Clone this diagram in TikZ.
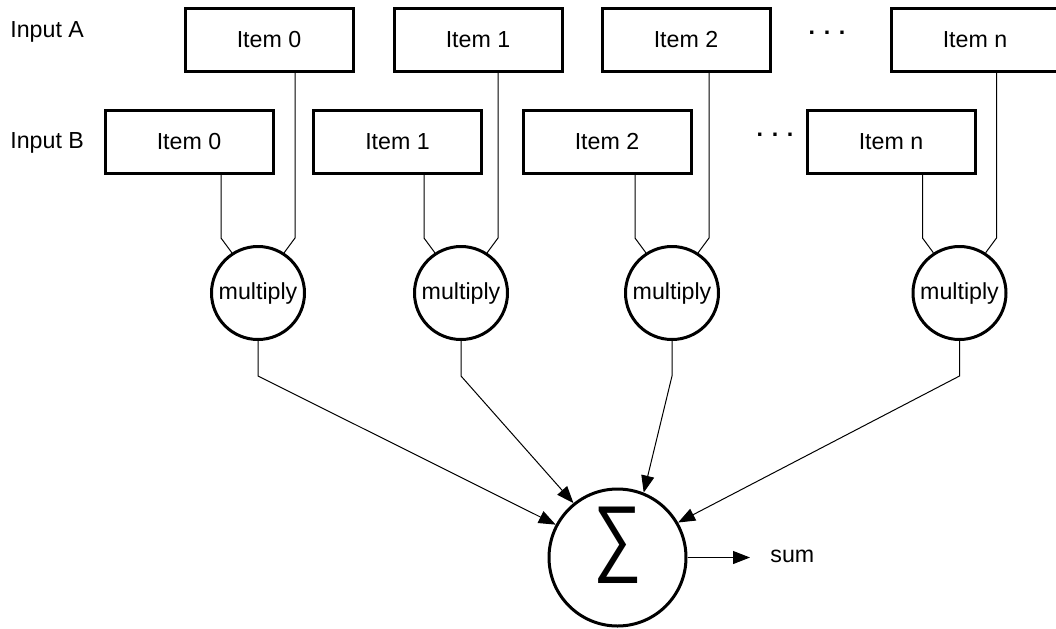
\documentclass[tikz,border=0pt]{standalone}
\usepackage{fontspec}
\setmainfont{Liberation Sans}
\usetikzlibrary{arrows.meta, calc}

\begin{document}
\begin{tikzpicture}[
  x=0.5pt, y=-0.5pt,
  font=\fontsize{11.6}{13.9}\selectfont,
  item/.style={draw, line width=1.5pt, minimum width=84pt, minimum height=31.5pt, inner sep=0pt},
  mult/.style={draw, circle, line width=1.5pt, minimum size=46.5pt, inner sep=0pt},
  adder/.style={draw, circle, line width=1.5pt, minimum size=68.5pt, inner sep=0pt},
  lbl/.style={inner sep=0pt},
  wire/.style={line width=0.5pt},
  arr/.style={-{Triangle[length=8.5pt, width=6.5pt]}, line width=0.5pt}
]
  \useasboundingbox (0,0) rectangle (1056,628);

  \node[lbl, anchor=base west] (inA) at (10,37) {Input A};
  \node[lbl, anchor=base west] (inB) at (10,148) {Input B};

  \foreach \i/\xa/\xb/\xm in {0/269/189/258, 1/478/397.5/461, 2/686/607/672, n/975/891/959.5} {
    \node[item] (a\i) at (\xa,39.5) {Item \i};
    \node[item] (b\i) at (\xb,141.5) {Item \i};
    \node[mult] (m\i) at (\xm,293) {multiply};
  }

  \node[lbl] (dotsA) at (827,33) {\textbf{. . .}};
  \node[lbl] (dotsB) at (775,135) {\textbf{. . .}};

  \foreach \i in {0,1,2,n} {
    \path (m\i.center) ++(-37,-55) coordinate (kb\i) ++(74,0) coordinate (ka\i);
    \draw[wire] (b\i.south -| kb\i) -- (kb\i) -- (m\i.123);
    \draw[wire] (a\i.south -| ka\i) -- (ka\i) -- (m\i.57);
  }

  \node[adder] (sum) at (617.5,557.5)
    {\raisebox{6pt}[\height][\depth]{\scalebox{1}[1.25]{\fontsize{34}{34}\selectfont ∑}}};

  \foreach \i/\ang in {0/152, 1/129, 2/68, n/30}
    \draw[arr] (m\i.south) -- ++(0,35) -- (sum.\ang);

  \node[lbl, anchor=base west] (out) at (770,562) {sum};
  \draw[arr, shorten >=10pt] (sum.east) -- (sum.east -| out.west);
\end{tikzpicture}
\end{document}
